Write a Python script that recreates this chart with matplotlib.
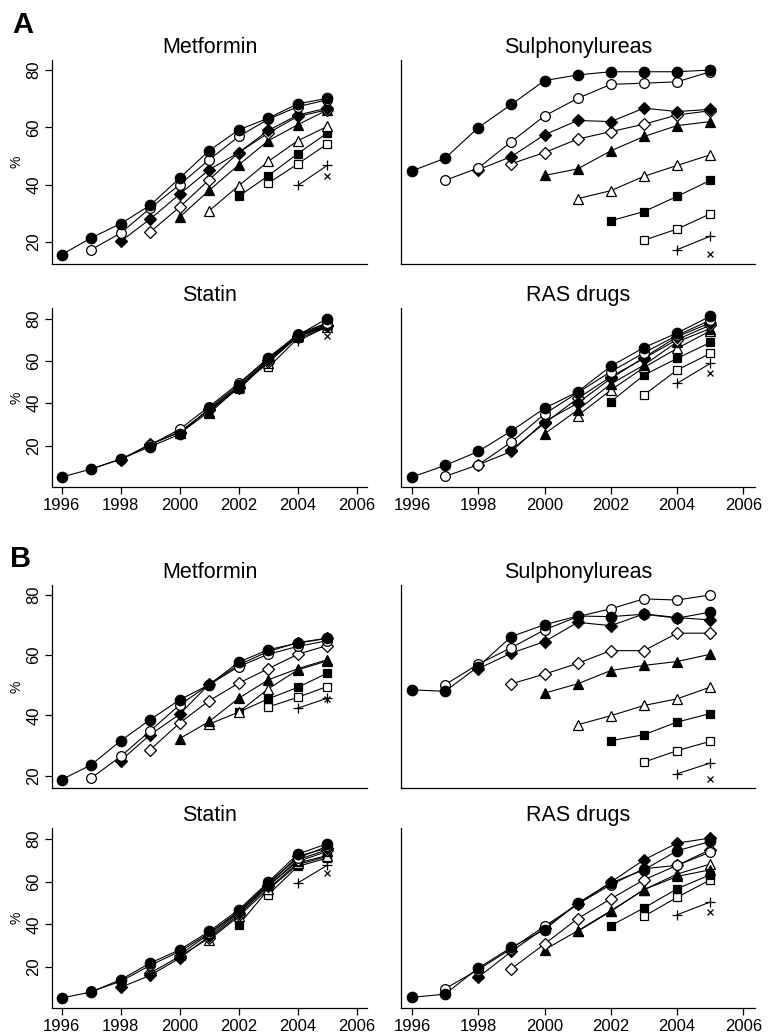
import matplotlib
matplotlib.use("Agg")
import matplotlib.pyplot as plt

plt.rcParams["font.family"] = ["Liberation Sans", "DejaVu Sans"]

YEARS = list(range(1996, 2006))
DRUGS = ["Metformin", "Sulphonylureas", "Statin", "RAS drugs"]

# each row is one cohort (first row starts 1996, next 1997, ...)
A_METFORMIN = [
    [15.6, 21.4, 26.4, 32.8, 42.3, 51.9, 59.1, 63.2, 68.2, 70.1],
    [17.3, 23.1, 31.8, 40.0, 48.7, 56.8, 62.8, 67.2, 69.6],
    [20.2, 28.0, 36.7, 45.2, 51.2, 58.9, 64.3, 66.7],
    [23.5, 32.2, 41.7, 51.2, 58.0, 63.8, 66.1],
    [28.7, 38.0, 46.9, 55.3, 60.9, 66.0],
    [30.9, 39.6, 48.1, 55.3, 60.3],
    [35.9, 43.1, 50.8, 58.0],
    [40.5, 47.2, 54.2],
    [39.7, 46.7],
    [42.9],
]
A_SULPH = [
    [44.8, 49.2, 59.9, 68.0, 76.3, 78.3, 79.4, 79.4, 79.4, 80.0],
    [41.5, 45.8, 55.0, 64.0, 70.1, 75.0, 75.4, 75.9, 79.4],
    [45.2, 49.8, 57.4, 62.4, 62.0, 66.7, 65.5, 66.3],
    [47.3, 51.2, 55.9, 58.5, 61.1, 64.3, 65.8],
    [43.2, 45.5, 51.8, 56.8, 60.6, 62.0],
    [35.1, 37.9, 42.9, 46.7, 50.4],
    [27.4, 30.6, 35.9, 41.5],
    [20.6, 24.5, 29.8],
    [17.3, 22.0],
    [15.9],
]
A_STATIN = [
    [5.1, 8.9, 13.6, 19.5, 25.3, 37.6, 48.6, 61.6, 72.1, 80.0],
    [8.9, 13.6, 20.3, 27.7, 38.4, 49.4, 61.2, 72.6, 78.0],
    [13.2, 20.8, 26.1, 37.1, 47.8, 60.4, 72.0, 76.9],
    [20.3, 26.6, 36.8, 47.0, 59.6, 71.4, 76.4],
    [25.8, 36.0, 47.8, 60.7, 72.1, 77.6],
    [35.2, 47.5, 59.1, 71.7, 76.1],
    [46.5, 60.1, 71.4, 76.9],
    [56.9, 70.6, 75.8],
    [69.3, 76.4],
    [71.7],
]
A_RAS = [
    [5.1, 10.6, 17.2, 26.9, 37.6, 45.4, 57.5, 66.3, 73.2, 81.1],
    [5.4, 10.9, 21.6, 34.9, 45.0, 54.9, 63.8, 72.1, 79.2],
    [10.9, 17.2, 31.3, 40.0, 51.7, 61.6, 71.4, 78.0],
    [18.0, 30.5, 42.3, 52.5, 61.2, 70.1, 76.9],
    [25.5, 36.8, 49.1, 58.0, 69.0, 75.3],
    [34.1, 46.2, 56.9, 65.9, 74.2],
    [40.7, 53.3, 61.2, 68.7],
    [43.9, 55.7, 63.5],
    [49.4, 58.8],
    [54.1],
]
B_METFORMIN = [
    [18.7, 23.6, 31.6, 38.6, 45.2, 50.2, 57.7, 61.8, 64.0, 65.6],
    [19.2, 26.4, 34.9, 43.5, 50.2, 56.2, 60.3, 62.9, 64.8],
    [25.0, 33.6, 40.4, 50.4, 56.8, 61.2, 64.2, 65.6],
    [28.6, 37.5, 44.9, 50.7, 55.5, 60.3, 63.2],
    [32.3, 38.0, 45.7, 51.8, 55.5, 58.5],
    [37.1, 41.1, 48.8, 55.1, 58.1],
    [41.1, 45.5, 49.3, 54.0],
    [42.8, 46.0, 49.6],
    [42.4, 45.7],
    [45.5],
]
B_SULPH = [
    [48.5, 48.0, 56.2, 66.2, 70.1, 73.0, 72.8, 73.6, 72.3, 74.3],
    [50.2, 57.0, 62.5, 68.4, 72.8, 75.4, 78.7, 78.3, 80.0],
    [55.5, 60.7, 64.5, 70.9, 69.8, 73.7, 72.5, 71.7],
    [50.5, 53.7, 57.3, 61.5, 61.5, 67.3, 67.3],
    [47.4, 50.5, 54.9, 56.6, 57.9, 60.3],
    [36.9, 39.9, 43.3, 45.5, 49.4],
    [31.6, 33.6, 37.8, 40.6],
    [24.5, 28.3, 31.4],
    [20.6, 24.2],
    [19.0],
]
B_STATIN = [
    [5.5, 8.3, 14.1, 21.9, 28.1, 36.7, 46.9, 59.8, 73.0, 77.8],
    [8.6, 13.3, 20.8, 27.3, 35.9, 46.1, 59.4, 71.1, 76.6],
    [10.5, 16.1, 24.2, 34.4, 45.3, 58.6, 71.9, 75.8],
    [17.2, 25.0, 33.6, 44.5, 57.8, 70.3, 75.0],
    [25.8, 35.5, 45.8, 58.3, 69.5, 74.2],
    [32.8, 43.8, 56.7, 68.8, 72.3],
    [39.8, 56.3, 68.0, 71.9],
    [53.9, 67.2, 71.1],
    [59.4, 67.7],
    [64.1],
]
B_RAS = [
    [5.8, 7.3, 19.5, 29.2, 37.5, 50.0, 59.4, 65.6, 74.5, 78.9],
    [9.8, 18.8, 28.6, 39.1, 49.5, 58.6, 66.1, 67.7, 73.9],
    [15.2, 27.3, 38.3, 49.5, 59.8, 70.3, 78.1, 80.5],
    [19.2, 30.8, 42.7, 52.0, 60.9, 67.7, 75.0],
    [28.1, 37.0, 46.4, 56.3, 62.5, 65.6],
    [36.7, 46.1, 56.3, 63.6, 68.3],
    [39.4, 47.7, 56.7, 63.3],
    [43.8, 52.7, 60.9],
    [44.5, 50.5],
    [45.8],
]

MARKERS = [
    ("o", "black", 7.5), ("o", "white", 7),
    ("D", "black", 6.5), ("D", "white", 6.5),
    ("^", "black", 7), ("^", "white", 7),
    ("s", "black", 6), ("s", "white", 6),
    ("+", "black", 7.5), ("x", "black", 5),
]


def draw(ax, cohorts):
    # later cohorts first so the 1996 line sits on top
    for i in reversed(range(len(cohorts))):
        marker, face, size = MARKERS[i]
        vals = cohorts[i]
        ax.plot(YEARS[i:i + len(vals)], vals, color="black", lw=0.8,
                marker=marker, markersize=size, markerfacecolor=face,
                markeredgecolor="black", markeredgewidth=0.9)


fig = plt.figure(figsize=(7.69, 10.34), dpi=100)
W, H = 769, 1034

col_x = [(52, 315), (401, 354)]
rows = [
    (60, 264, (12.3, 83.5), [A_METFORMIN, A_SULPH]),
    (308, 487, (0.4, 85.0), [A_STATIN, A_RAS]),
    (585, 788, (15.9, 83.3), [B_METFORMIN, B_SULPH]),
    (828, 1008, (0.8, 85.2), [B_STATIN, B_RAS]),
]

for r, (top, bottom, ylim, panels) in enumerate(rows):
    for c, data in enumerate(panels):
        x0, w = col_x[c]
        ax = fig.add_axes([x0 / W, 1 - bottom / H, w / W, (bottom - top) / H])
        draw(ax, data)
        ax.set_xlim(1995.67, 2006.35)
        ax.set_ylim(*ylim)
        ax.spines["top"].set_visible(False)
        ax.spines["right"].set_visible(False)
        ax.spines["left"].set_linewidth(0.9)
        ax.spines["bottom"].set_linewidth(0.9)
        ax.set_title(DRUGS[(r % 2) * 2 + c], fontsize=15.5, pad=5)
        ax.set_xticks(range(1996, 2007, 2))
        if r % 2 == 0:
            ax.tick_params(axis="x", bottom=False, labelbottom=False)
        else:
            ax.tick_params(axis="x", length=5, width=0.9, pad=3, labelsize=12)
        ax.set_yticks([20, 40, 60, 80])
        if c == 0:
            ax.tick_params(axis="y", length=5, width=0.9, pad=2.5, labelsize=12,
                           labelrotation=90)
            plt.setp(ax.get_yticklabels(), va="center")
            ax.set_ylabel("%", fontsize=10, labelpad=2)
        else:
            ax.tick_params(axis="y", left=False, labelleft=False)

fig.text(12 / W, 1 - 33 / H, "A", fontsize=21, fontweight="bold")
fig.text(10 / W, 1 - 567 / H, "B", fontsize=21, fontweight="bold")

fig.savefig("out.png", dpi=100)
